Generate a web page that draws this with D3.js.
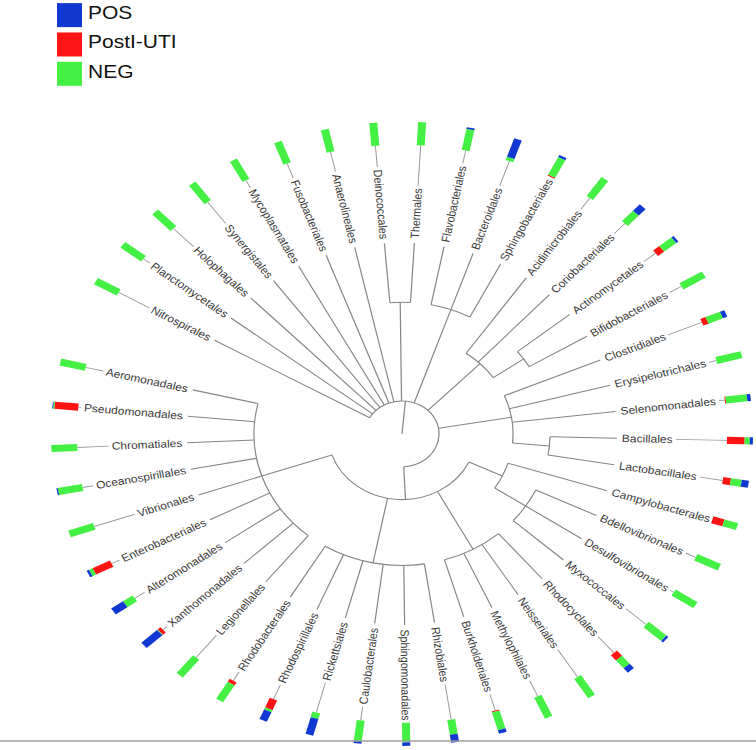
<!DOCTYPE html>
<html>
<head>
<meta charset="utf-8">
<script src="https://cdn.jsdelivr.net/npm/d3@7"></script>
<style>
body{margin:0;background:#fff;}
text{font-family:"Liberation Sans",Arial,sans-serif;}
</style>
</head>
<body>
<div id="chart-area"></div>
<script>
// leaf order round the circle (clockwise, starting upper left)
let orders=["Nitrospirales","Planctomycetales","Holophagales","Synergistales","Mycoplasmatales",
	"Fusobacteriales","Anaerolineales","Deinococcales","Thermales","Flavobacteriales","Bacteroidales",
	"Sphingobacteriales","Acidimicrobiales","Coriobacteriales","Actinomycetales","Bifidobacteriales",
	"Clostridiales","Erysipelotrichales","Selenomonadales","Bacillales","Lactobacillales",
	"Campylobacterales","Bdellovibrionales","Desulfovibrionales","Myxococcales","Rhodocyclales",
	"Neisseriales","Methylophilales","Burkholderiales","Rhizobiales","Sphingomonadales",
	"Caulobacterales","Rickettsiales","Rhodospirillales","Rhodobacterales","Legionellales",
	"Xanthomonadales","Alteromonadales","Enterobacteriales","Vibrionales","Oceanospirillales",
	"Chromatiales","Pseudomonadales","Aeromonadales"];

let leafParent=["N1","N1","N1","N1","N1","N1","N1","DT","DT","BCT","BCT","BCT","ACT","ACT","ACT2","ACT2",
	"FIR","FIR","FIR","BAC","BAC","DEL","DEL2","DEL2","DEL2","BET","BET","BET","BET",
	"ALP","ALP","ALP","ALP","ALP","ALP","GAM","GAM","GAM","GAM","GAM","GAM","GAM","GAM","GAM"];

// internal nodes of the tree and their level from the root
let nodeIds=["root","N1","DT","BCT","ACT","ACT2","FIR","BAC","PRO","DEL","DEL2","BET","ALP","GAM"];
let nodeParents=[null,"root","N1","N1","N1","ACT","N1","FIR","N1","PRO","DEL","PRO","PRO","PRO"];
let nodeLevels=[0,1,4,4,3,4,3,4,2,3,4,4,4,4];

// share of each group per order
let postVals=[0,0,0,0,0,0,0,0,0,0,0,0.05,0,0,0.3,0,0.22,0,0.04,0.68,0.3,0.45,0,0,0,0.3,0,0,0.04,0,0,0,0,0.45,0.15,0,0.15,0,0.75,0,0,0,0.92,0];
let negVals=[1,1,1,1,1,1,1,1,1,0.93,0.15,0.85,1,0.62,0.6,1,0.6,1,0.82,0.2,0.42,0.55,1,1,0.9,0.45,1,1,0.8,0.65,0.85,0.88,0.25,0.1,0.85,1,0.03,0.45,0.15,1,0.95,1,0.05,1];
let posVals=[0,0,0,0,0,0,0,0,0,0.07,0.85,0.1,0,0.38,0.1,0,0.18,0,0.14,0.12,0.28,0,0,0,0.1,0.25,0,0,0.16,0.35,0.15,0.12,0.75,0.45,0,0,0.82,0.55,0.1,0,0.05,0,0.03,0];

let groups=["POS","PostI-UTI","NEG"];
let groupColors=["#1238d2","#ff1414","#44f044"];

let W=756,H=750;
let squish=0.889;
let cx=402,cy=488;
let tipR=215,labelR=220;

let svg=d3.select("#chart-area").append('svg')
	.attr('width',W)
	.attr('height',H);

let g=svg.append('g')
	.attr('transform','scale(1,'+squish+')');

//--------LEGEND--------------
let legend=g.append('g');
groups.forEach(function(name,i){
	let row=legend.append('g')
		.attr('transform','translate(57,'+(3.5+i*33)+')');
	row.append('rect')
		.attr('width',25)
		.attr('height',27)
		.attr('fill',groupColors[i]);
	row.append('text')
		.attr('x',31)
		.attr('y',18)
		.attr('font-size','21px')
		.attr('fill','#111')
		.text(name);
});

//--------TREE----------------
let table=nodeIds.map((id,i)=>({id:id,parent:nodeParents[i],level:nodeLevels[i]}))
	.concat(orders.map((o,i)=>({id:o,parent:leafParent[i],leaf:true,idx:i})));
let root=d3.stratify().id(d=>d.id).parentId(d=>d.parent)(table);

let angle=d3.scalePoint().domain(orders).range([-60.7,283.3]);
let level=d3.scaleLinear().domain([0,4]).range([0,148]);
let rad=a=>a*Math.PI/180;

root.eachAfter(function(n){
	if(n.children){
		n.a=d3.mean(n.children,c=>c.a);
		n.r=level(n.data.level);
	}else{
		n.a=angle(n.id);
		n.r=tipR;
	}
});

let chart=g.append('g')
	.attr('transform','translate('+cx+','+cy+')');

let branches=chart.append('g')
	.attr('fill','none')
	.attr('stroke','#858585')
	.attr('stroke-width',1.2);

// radial edges
root.descendants().filter(n=>n.parent).forEach(function(n){
	let p0=d3.pointRadial(rad(n.a),n.parent.r);
	let p1=d3.pointRadial(rad(n.a),n.r);
	branches.append('line')
		.attr('x1',p0[0]).attr('y1',p0[1])
		.attr('x2',p1[0]).attr('y2',p1[1]);
});

// arcs joining the children
root.descendants().filter(n=>n.children && n.r>0).forEach(function(n){
	let ext=d3.extent(n.children,c=>c.a);
	let p=d3.path();
	p.arc(0,0,n.r,rad(ext[0]-90),rad(ext[1]-90));
	branches.append('path').attr('d',p.toString());
});

//--------LABELS + BARS-------
let stacked=d3.stack()
	.keys(["post","neg","pos"])
	.offset(d3.stackOffsetExpand)(orders.map((o,i)=>({name:o,post:postVals[i],neg:negVals[i],pos:posVals[i]})));
let keyColor={post:groupColors[1],neg:groupColors[2],pos:groupColors[0]};
let barR=d3.scaleLinear().domain([0,1]).range([325,351]);

let leaves=chart.selectAll('.leaf').data(orders).enter()
	.append('g')
	.attr('class','leaf')
	.attr('transform',d=>'rotate('+(angle(d)-90)+')');

leaves.each(function(d,i){
	let a=(angle(d)+360)%360;
	let flip=a>180;
	let leaf=d3.select(this);
	let t=leaf.append('text')
		.attr('dy','0.35em')
		.attr('font-size','12px')
		.attr('fill','#3a3a3a')
		.attr('text-anchor',flip?'end':'start')
		.attr('transform',flip?'rotate(180) translate('+(-labelR)+',0)':'translate('+labelR+',0)')
		.text(d);
	let len=t.node().getComputedTextLength();
	let start=labelR+len+3;
	if(start<barR(0)){
		leaf.insert('line','text')
			.attr('x1',start).attr('x2',barR(0))
			.attr('stroke','#9a9a9a')
			.attr('stroke-width',1);
	}
	stacked.forEach(function(layer){
		let s=layer[i];
		if(s[1]-s[0]<=0)return;
		leaf.append('rect')
			.attr('x',barR(s[0]))
			.attr('y',-4)
			.attr('width',barR(s[1])-barR(s[0]))
			.attr('height',8)
			.attr('fill',keyColor[layer.key]);
	});
});

// bottom rule
svg.append('line')
	.attr('x1',0).attr('x2',W)
	.attr('y1',741).attr('y2',741)
	.attr('stroke','#a0a0a0')
	.attr('stroke-width',1.5);
</script>
</body>
</html>
